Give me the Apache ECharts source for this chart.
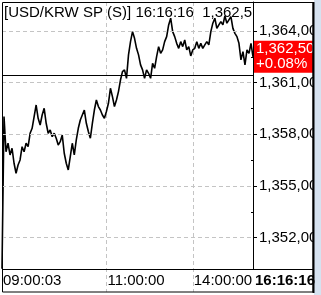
<!DOCTYPE html>
<html><head><meta charset="utf-8">
<script src="https://cdn.jsdelivr.net/npm/echarts@6/dist/echarts.min.js"></script>
<style>html,body{margin:0;padding:0;background:#fff;}#c{width:321px;height:295px;}</style>
</head><body><div id="c"></div>
<script>
const titleText = '[USD/KRW SP (S)] 16:16:16  1,362,50';
const lastTime = '16:16:16';
const tickIndex = [0, 52, 95];
const tickLabels = ['09:00:03', '11:00:00', '14:00:00'];
const yTicks = [1352, 1355, 1358, 1361, 1364];
const yMinor = [1353.5, 1356.5, 1359.5, 1362.5];
const prevClose = 1361.41;
const lastPrice = 1362.50;
const changeText = '+0.08%';
const yMin = 1350.18, yMax = 1365.68;
const prices = [
1350.2, 1359.03, 1356.99, 1357.48, 1356.80, 1357.19, 1356.32, 1355.74, 1356.22,
1356.51, 1357.28, 1356.99, 1357.48, 1357.28, 1358.06, 1358.35, 1359.03, 1359.70, 1358.93,
1358.54, 1359.12, 1359.51, 1358.64, 1358.06, 1358.25, 1357.86, 1358.06, 1357.77, 1357.38,
1357.57, 1357.96, 1356.90, 1356.32, 1355.93, 1356.70, 1357.48, 1356.80, 1357.67, 1358.35,
1358.83, 1359.12, 1359.41, 1358.64, 1358.16, 1357.77, 1358.64, 1359.41, 1359.99, 1359.61,
1359.41, 1359.12, 1358.93, 1359.32, 1359.80, 1360.67, 1360.19, 1359.61, 1359.99, 1360.48,
1361.15, 1361.64, 1361.74, 1361.25, 1362.61, 1363.38, 1363.96, 1363.57, 1362.99, 1362.61,
1362.03, 1361.74, 1361.25, 1361.74, 1361.54, 1361.25, 1362.12, 1361.83, 1362.51, 1363.09,
1362.70, 1362.90, 1363.38, 1363.67, 1364.35, 1364.74, 1363.96, 1363.67, 1363.28, 1362.99,
1363.38, 1363.09, 1363.48, 1362.90, 1363.09, 1362.55, 1362.90, 1362.99, 1363.38, 1362.99,
1363.28, 1362.99, 1363.19, 1363.38, 1363.19, 1363.96, 1364.45, 1364.74, 1364.15, 1364.35,
1364.54, 1364.35, 1364.87, 1364.45, 1364.64, 1364.83, 1364.15, 1363.86, 1363.67, 1363.28,
1362.32, 1362.80, 1362.03, 1362.90, 1362.70, 1363.28, 1362.50
];

const FONT = 'Liberation Sans';
function fmt(v) {
  const s = v.toFixed(2).split('.');
  return s[0].replace(/\B(?=(\d{3})+(?!\d))/g, ',') + ',' + s[1];
}
const categories = prices.map((_, i) => String(i));
const isTick = (i) => tickIndex.indexOf(i) >= 0;

const chart = echarts.init(document.getElementById('c'), null, {renderer: 'canvas'});
const gridMarks = yTicks.map(v => ({yAxis: v, lineStyle: {color: '#c4c4c4', type: [4, 3], width: 1}}));

chart.setOption({
  animation: false,
  backgroundColor: '#ffffff',
  title: {
    text: titleText, left: 4, top: 5, padding: 0, z: 1,
    textStyle: {fontFamily: FONT, fontSize: 15, fontWeight: 'normal', color: '#000',
      width: 253, overflow: 'truncate', ellipsis: ''}
  },
  grid: [
    {left: 2, top: 2, width: 251, height: 267},
    {left: 2, top: 2, width: 251, height: 290}
  ],
  xAxis: [
    {
      type: 'category', gridIndex: 0, data: categories, boundaryGap: false,
      axisLine: {show: false}, axisTick: {show: false},
      splitLine: {show: false},
      axisLabel: {
        show: true, interval: (i) => isTick(i), margin: 4, align: 'left',
        fontFamily: FONT, fontSize: 15, color: '#000', padding: [0, 0, 0, 1],
        formatter: (v, i) => tickLabels[tickIndex.indexOf(i)] || ''
      }
    },
    {
      type: 'category', gridIndex: 1, data: categories, boundaryGap: false,
      axisLine: {show: false}, axisTick: {show: false}, axisLabel: {show: false},
      splitLine: {show: true, interval: (i) => isTick(i) && i > 0,
        lineStyle: {color: '#c4c4c4', type: [4, 3], width: 1}}
    }
  ],
  yAxis: [
    {
      type: 'value', gridIndex: 0, position: 'right', min: yMin, max: yMax,
      axisLine: {show: true, lineStyle: {color: '#000', width: 1}},
      axisTick: {show: true, inside: false, length: 4, customValues: yTicks, lineStyle: {color: '#000'}},
      axisLabel: {show: true, customValues: yTicks, margin: 6, fontFamily: FONT, fontSize: 15,
        color: '#000', formatter: (v) => fmt(v)},
      splitLine: {show: false}
    },
    {
      type: 'value', gridIndex: 0, position: 'right', min: yMin, max: yMax,
      axisLine: {show: false},
      axisTick: {show: true, inside: true, length: 2, customValues: yMinor, lineStyle: {color: '#000'}},
      axisLabel: {show: false},
      splitLine: {show: false}
    },
    {type: 'value', gridIndex: 1, show: false}
  ],
  series: [{
    type: 'line', xAxisIndex: 0, yAxisIndex: 0, data: prices, symbol: 'none', clip: false,
    lineStyle: {color: '#000', width: 1.6}, z: 3,
    markLine: {
      silent: true, symbol: ['none', 'none'], animation: false,
      label: {show: false},
      data: gridMarks.concat([
        {yAxis: prevClose, lineStyle: {color: '#000', type: 'solid', width: 1}},
        {yAxis: lastPrice, lineStyle: {color: 'rgba(0,0,0,0)', width: 1},
          label: {show: true, position: 'end', distance: 1,
            formatter: fmt(lastPrice) + '\n' + changeText,
            backgroundColor: '#ff0000', color: '#ffffff', fontFamily: FONT, fontSize: 15,
            lineHeight: 15, padding: [1, 10, 1, 2], align: 'left'}}
      ])
    }
  }],
  graphic: [
    {type: 'rect', z: 100, shape: {x: 314, y: 0, width: 7, height: 295}, style: {fill: '#d6e2f0'}},
    {type: 'rect', z: 100, shape: {x: 2.5, y: 2.5, width: 310.5, height: 289.5}, style: {fill: null, stroke: '#000', lineWidth: 1}},
    {type: 'line', z: 100, shape: {x1: 313.5, y1: 2, x2: 313.5, y2: 293}, style: {stroke: '#000', lineWidth: 2}},
    {type: 'line', z: 100, shape: {x1: 2, y1: 269.5, x2: 313, y2: 269.5}, style: {stroke: '#000', lineWidth: 1}},
    {type: 'text', z: 100, x: 255, y: 281, style: {text: lastTime, fontFamily: FONT, fontSize: 15, fontWeight: 'bold', fill: '#000', verticalAlign: 'middle'}}
  ]
});
</script>
</body></html>
